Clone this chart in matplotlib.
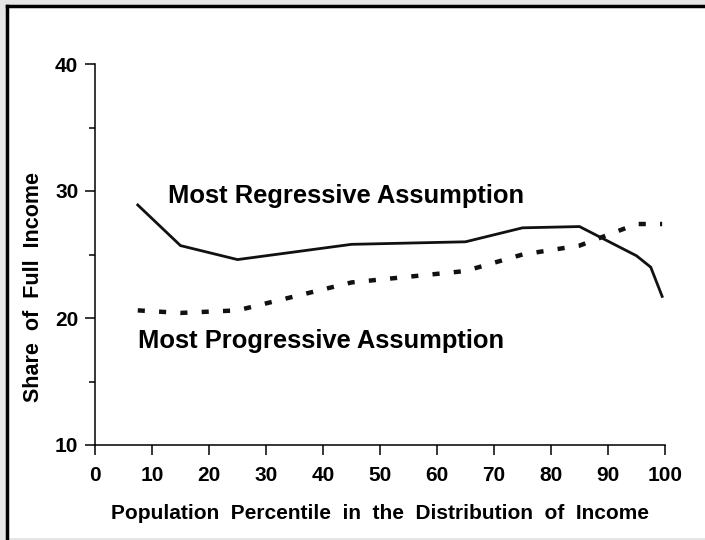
import matplotlib.pyplot as plt
from matplotlib.patches import Rectangle
from matplotlib.lines import Line2D

plt.rcParams['font.family'] = ['Liberation Sans', 'DejaVu Sans']
plt.rcParams['font.weight'] = 'bold'

# Most Regressive Assumption (solid)
reg_x = [7.5, 15, 25, 45, 65, 75, 85, 95, 97.5, 99.5]
reg_y = [28.9, 25.7, 24.6, 25.8, 26.0, 27.1, 27.2, 24.9, 24.0, 21.7]

# Most Progressive Assumption (dotted)
prog_x = [7.5, 15, 25, 45, 65, 75, 85, 95, 99.5]
prog_y = [20.6, 20.4, 20.6, 22.8, 23.7, 25.0, 25.7, 27.4, 27.4]

x_ticks = list(range(0, 101, 10))
y_ticks = [10, 20, 30, 40]
y_minor = [15, 25, 35]

fig = plt.figure(figsize=(7.05, 5.4), dpi=100, facecolor='#e6e6e6')
# white panel with black top/left edge
fig.patches.append(Rectangle((6 / 705, 2 / 540), 1, 1 - 8 / 540, transform=fig.transFigure,
                             facecolor='white', edgecolor='none', zorder=-5))
fig.lines.append(Line2D([6.5 / 705, 6.5 / 705], [0, 1 - 5.5 / 540], transform=fig.transFigure,
                        color='black', lw=2.5, zorder=-4))
fig.lines.append(Line2D([6.5 / 705, 1], [1 - 5.5 / 540, 1 - 5.5 / 540], transform=fig.transFigure,
                        color='black', lw=2.5, zorder=-4))

ax = fig.add_axes([95 / 705, 1 - 445 / 540, 570 / 705, 381 / 540])
ax.set_facecolor('none')

ax.plot(reg_x, reg_y, color='#111111', lw=2.0, solid_joinstyle='miter')
ax.plot(prog_x, prog_y, color='#111111', lw=3.2, linestyle=(0, (1.6, 3.2)),
        dash_capstyle='butt')

ax.text(12.8, 29.6, 'Most Regressive Assumption', fontsize=18.4, fontweight='bold',
        va='center', ha='left')
ax.text(7.5, 18.2, 'Most Progressive Assumption', fontsize=18.4, fontweight='bold',
        va='center', ha='left')

ax.set_xlim(0, 100)
ax.set_ylim(10, 40)
ax.set_xticks(x_ticks)
ax.set_yticks(y_ticks)
ax.set_yticks(y_minor, minor=True)
ax.tick_params(axis='both', which='major', length=7, width=1.1, labelsize=15, pad=8)
ax.tick_params(axis='y', which='minor', length=4, width=1.1)
ax.tick_params(axis='y', which='major', pad=5)
for lab in ax.get_xticklabels() + ax.get_yticklabels():
    lab.set_fontweight('bold')

ax.spines['top'].set_visible(False)
ax.spines['right'].set_visible(False)
ax.spines['left'].set_linewidth(1.1)
ax.spines['bottom'].set_linewidth(1.1)

ax.set_xlabel('Population  Percentile  in  the  Distribution  of  Income',
              fontsize=15, fontweight='bold', labelpad=14)
ax.set_ylabel('Share  of  Full  Income', fontsize=15.5, fontweight='bold')
ax.yaxis.set_label_coords(-0.089, 0.415)

fig.savefig('out.png', dpi=100, facecolor=fig.get_facecolor())
